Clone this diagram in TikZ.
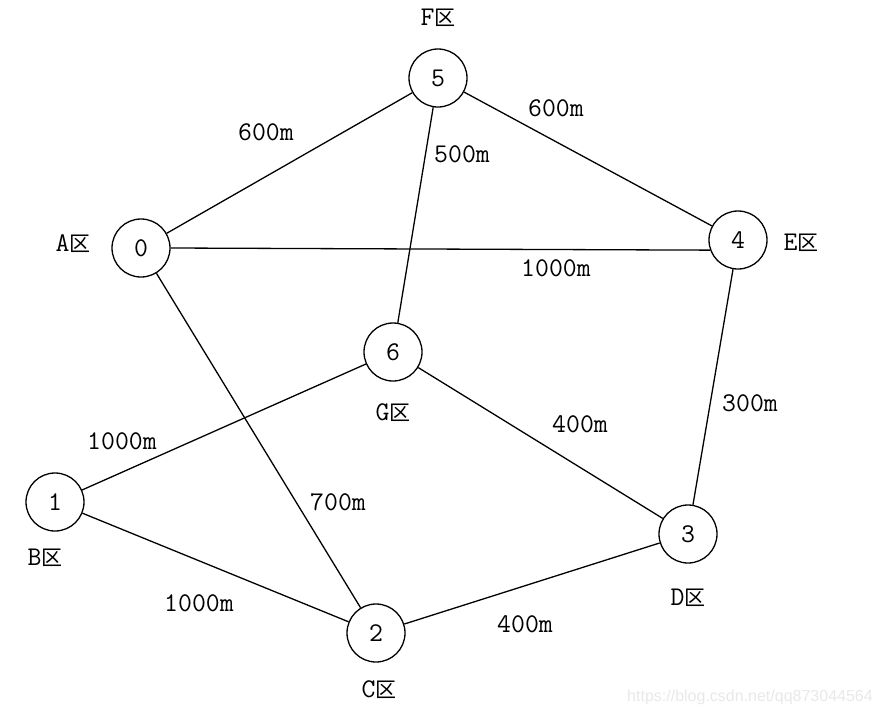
\documentclass[tikz,border=0pt]{standalone}
\usepackage{fontspec}
\usetikzlibrary{positioning}
\newfontfamily\cjk{Noto Sans CJK SC}
\newfontfamily\webfont{Liberation Sans}
\newcommand{\qu}{{\cjk\fontsize{21pt}{24pt}\selectfont 区}}
\tikzset{
	station/.style={draw, circle, minimum size=58pt, inner sep=0pt, line width=1.3pt, font=\ttfamily\fontsize{27pt}{30pt}\selectfont},
	region/.style={inner sep=0pt, font=\ttfamily\fontsize{27pt}{30pt}\selectfont},
	dist/.style={inner sep=0pt, font=\ttfamily\fontsize{27pt}{30pt}\selectfont},
	road/.style={line width=1.3pt},
	watermark/.style={inner sep=0pt, text=black!9, font=\webfont\fontsize{16pt}{18pt}\selectfont}
}

\begin{document}
\begin{tikzpicture}[x=1pt, y=-1pt, on grid]
	\useasboundingbox (0,0) rectangle (881,715);
	\node[station] (n0) at (141,248) {0};
	\node[station, above right=170pt and 297pt of n0] (n5) {5};
	\node[station, below right=162pt and 300pt of n5] (n4) {4};
	\node[station, below left=274pt and 45pt of n5] (n6) {6};
	\node[station, below left=254pt and 86pt of n0] (n1) {1};
	\node[station, below left=294pt and 50pt of n4] (n3) {3};
	\node[station, below right=131pt and 321pt of n1] (n2) {2};
	
	\node[region, above left=4pt and 68pt of n0] (rA) {A\qu};
	\node[region, below left=56pt and 10pt of n1] (rB) {B\qu};
	\node[region, below right=57pt and 3pt of n2] (rC) {C\qu};
	\node[region, below=64pt of n3] (rD) {D\qu};
	\node[region, below right=3pt and 63pt of n4] (rE) {E\qu};
	\node[region, above=60pt of n5] (rF) {F\qu};
	\node[region, below=61pt of n6] (rG) {G\qu};
	
	\draw[road] (n0) -- (n5);
	\draw[road] (n0.east) -- (n4.200);
	\draw[road] (n0) -- (n2);
	\draw[road] (n5) -- (n4);
	\draw[road] (n5) -- (n6);
	\draw[road] (n4) -- (n3);
	\draw[road] (n6) -- (n3);
	\draw[road] (n6) -- (n1);
	\draw[road] (n1) -- (n2);
	\draw[road] (n2) -- (n3);
	
	% lengths
	\node[dist] (d05) at (266,132) {600m};
	\node[dist] (d54) at (556,108) {600m};
	\node[dist] (d56) at (462,154) {500m};
	\node[dist] (d04) at (556,268) {1000m};
	\node[dist] (d43) at (750,403) {300m};
	\node[dist] (d63) at (580,424) {400m};
	\node[dist] (d61) at (122,441) {1000m};
	\node[dist] (d02) at (338,502) {700m};
	\node[dist] (d12) at (199,603) {1000m};
	\node[dist] (d23) at (525,624) {400m};
	
	\node[watermark] (wm) at (750,697) {https://blog.csdn.net/qq873044564};
\end{tikzpicture}
\end{document}
